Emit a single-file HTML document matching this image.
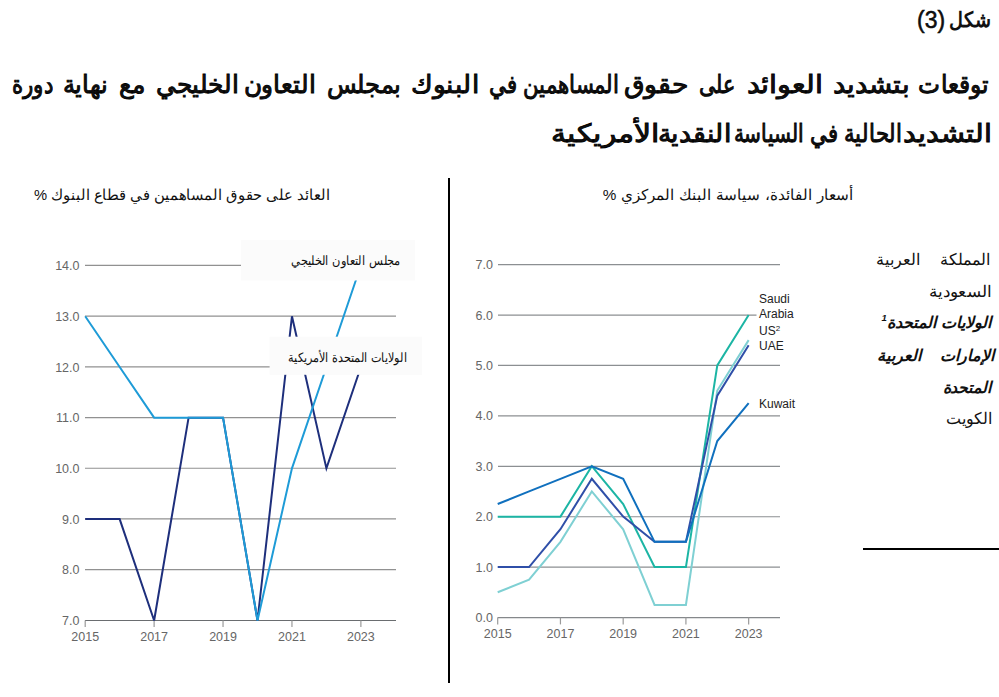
<!DOCTYPE html>
<html lang="ar">
<head>
<meta charset="utf-8">
<title>شكل 3</title>
<style>
html,body{margin:0;padding:0;background:#fff;}
body{width:999px;height:697px;position:relative;overflow:hidden;font-family:"Liberation Sans",sans-serif;color:#111;}
.t{position:absolute;white-space:nowrap;direction:rtl;line-height:1;}
.fit{transform-origin:100% 50%;}
.b{font-weight:bold;}
.tb{font-weight:normal;-webkit-text-stroke:0.9px #000;}
.bi{font-weight:bold;font-style:italic;}
.p3{font-weight:normal;-webkit-text-stroke:0.5px #000;direction:ltr;}
.just{text-align:justify;text-align-last:justify;}
sup{font-size:60%;line-height:0;vertical-align:0.75em;}
svg{position:absolute;left:0;top:0;}
.ax{font-family:"Liberation Sans",sans-serif;font-size:12.5px;fill:#666;}
.lg{font-family:"Liberation Sans",sans-serif;font-size:12px;fill:#222;}
.div1{position:absolute;left:448px;top:178px;width:2px;height:505px;background:#000;}
.hr1{position:absolute;left:863px;top:548px;width:136px;height:2px;background:#000;}
</style>
</head>
<body>
<div class="div1"></div>
<svg width="999" height="697" viewBox="0 0 999 697">
<line x1="85" y1="265.4" x2="241" y2="265.4" stroke="#919191" stroke-width="1.2"/>
<line x1="85" y1="316.11" x2="396" y2="316.11" stroke="#919191" stroke-width="1.2"/>
<line x1="85" y1="366.82" x2="270" y2="366.82" stroke="#919191" stroke-width="1.2"/>
<line x1="85" y1="417.53" x2="396" y2="417.53" stroke="#919191" stroke-width="1.2"/>
<line x1="85" y1="468.24" x2="396" y2="468.24" stroke="#919191" stroke-width="1.2"/>
<line x1="85" y1="518.95" x2="396" y2="518.95" stroke="#919191" stroke-width="1.2"/>
<line x1="85" y1="569.66" x2="396" y2="569.66" stroke="#919191" stroke-width="1.2"/>
<line x1="85" y1="620.5" x2="396" y2="620.5" stroke="#6a6d70" stroke-width="1.2"/>
<line x1="85.2" y1="620.5" x2="85.2" y2="627" stroke="#9a9a9a" stroke-width="1.2"/>
<line x1="154.12" y1="620.5" x2="154.12" y2="627" stroke="#9a9a9a" stroke-width="1.2"/>
<line x1="223.04" y1="620.5" x2="223.04" y2="627" stroke="#9a9a9a" stroke-width="1.2"/>
<line x1="291.96" y1="620.5" x2="291.96" y2="627" stroke="#9a9a9a" stroke-width="1.2"/>
<line x1="360.88" y1="620.5" x2="360.88" y2="627" stroke="#9a9a9a" stroke-width="1.2"/>
<text x="79.5" y="625.2" text-anchor="end" class="ax">7.0</text>
<text x="79.5" y="574.49" text-anchor="end" class="ax">8.0</text>
<text x="79.5" y="523.78" text-anchor="end" class="ax">9.0</text>
<text x="79.5" y="473.07" text-anchor="end" class="ax">10.0</text>
<text x="79.5" y="422.36" text-anchor="end" class="ax">11.0</text>
<text x="79.5" y="371.65" text-anchor="end" class="ax">12.0</text>
<text x="79.5" y="320.94" text-anchor="end" class="ax">13.0</text>
<text x="79.5" y="270.23" text-anchor="end" class="ax">14.0</text>
<text x="85.2" y="641" text-anchor="middle" class="ax">2015</text>
<text x="154.12" y="641" text-anchor="middle" class="ax">2017</text>
<text x="223.04" y="641" text-anchor="middle" class="ax">2019</text>
<text x="291.96" y="641" text-anchor="middle" class="ax">2021</text>
<text x="360.88" y="641" text-anchor="middle" class="ax">2023</text>
<polyline points="85.2,519.08 119.66,519.08 154.12,620.5 188.58,417.66 223.04,417.66 257.5,620.5 291.96,316.24 326.42,468.37 360.88,366.95" fill="none" stroke="#1e2f7c" stroke-width="2" stroke-linejoin="miter" stroke-miterlimit="4"/>
<polyline points="85.2,316.24 119.66,366.95 154.12,417.66 188.58,417.66 223.04,417.66 257.5,620.5 291.96,468.37 326.42,366.95 360.88,265.53" fill="none" stroke="#1e9bd7" stroke-width="2" stroke-linejoin="miter" stroke-miterlimit="4"/>
<rect x="241" y="240" width="174" height="40.5" fill="#fbfbfb"/>
<rect x="269.6" y="336.7" width="152.5" height="38.1" fill="#fbfbfb"/>
<line x1="498" y1="567.18" x2="780" y2="567.18" stroke="#8c8f92" stroke-width="1.2"/>
<line x1="498" y1="516.75" x2="780" y2="516.75" stroke="#8c8f92" stroke-width="1.2"/>
<line x1="498" y1="466.32" x2="780" y2="466.32" stroke="#8c8f92" stroke-width="1.2"/>
<line x1="498" y1="415.89" x2="780" y2="415.89" stroke="#8c8f92" stroke-width="1.2"/>
<line x1="498" y1="365.46" x2="780" y2="365.46" stroke="#8c8f92" stroke-width="1.2"/>
<line x1="498" y1="315.03" x2="756.5" y2="315.03" stroke="#8c8f92" stroke-width="1.2"/>
<line x1="498" y1="264.6" x2="780" y2="264.6" stroke="#8c8f92" stroke-width="1.2"/>
<line x1="497.7" y1="617.6" x2="780" y2="617.6" stroke="#85888b" stroke-width="1.2"/>
<line x1="497.7" y1="617.6" x2="497.7" y2="624.4" stroke="#9a9a9a" stroke-width="1.2"/>
<line x1="560.44" y1="617.6" x2="560.44" y2="624.4" stroke="#9a9a9a" stroke-width="1.2"/>
<line x1="623.18" y1="617.6" x2="623.18" y2="624.4" stroke="#9a9a9a" stroke-width="1.2"/>
<line x1="685.92" y1="617.6" x2="685.92" y2="624.4" stroke="#9a9a9a" stroke-width="1.2"/>
<line x1="748.66" y1="617.6" x2="748.66" y2="624.4" stroke="#9a9a9a" stroke-width="1.2"/>
<text x="493" y="622.2" text-anchor="end" class="ax">0.0</text>
<text x="493" y="571.77" text-anchor="end" class="ax">1.0</text>
<text x="493" y="521.34" text-anchor="end" class="ax">2.0</text>
<text x="493" y="470.91" text-anchor="end" class="ax">3.0</text>
<text x="493" y="420.48" text-anchor="end" class="ax">4.0</text>
<text x="493" y="370.05" text-anchor="end" class="ax">5.0</text>
<text x="493" y="319.62" text-anchor="end" class="ax">6.0</text>
<text x="493" y="269.19" text-anchor="end" class="ax">7.0</text>
<text x="497.7" y="637.8" text-anchor="middle" class="ax">2015</text>
<text x="560.44" y="637.8" text-anchor="middle" class="ax">2017</text>
<text x="623.18" y="637.8" text-anchor="middle" class="ax">2019</text>
<text x="685.92" y="637.8" text-anchor="middle" class="ax">2021</text>
<text x="748.66" y="637.8" text-anchor="middle" class="ax">2023</text>
<polyline points="497.7,592.28 529.07,579.68 560.44,541.86 591.81,491.43 623.18,529.25 654.55,604.89 685.92,604.89 717.29,390.56 748.66,340.13" fill="none" stroke="#7fd0d3" stroke-width="2" stroke-linejoin="miter" stroke-miterlimit="4"/>
<polyline points="497.7,516.64 529.07,516.64 560.44,516.64 591.81,466.21 623.18,504.03 654.55,567.07 685.92,567.07 717.29,365.35 748.66,314.92" fill="none" stroke="#1cb5a4" stroke-width="2" stroke-linejoin="miter" stroke-miterlimit="4"/>
<polyline points="497.7,567.07 529.07,567.07 560.44,529.25 591.81,478.82 623.18,516.64 654.55,541.86 685.92,541.86 717.29,395.61 748.66,345.18" fill="none" stroke="#2f4fa8" stroke-width="2" stroke-linejoin="miter" stroke-miterlimit="4"/>
<polyline points="497.7,504.03 529.07,491.43 560.44,478.82 591.81,466.21 623.18,478.82 654.55,541.86 685.92,541.86 717.29,441 748.66,403.17" fill="none" stroke="#1070be" stroke-width="2" stroke-linejoin="miter" stroke-miterlimit="4"/>
<text x="759" y="302.8" class="lg">Saudi</text>
<text x="759" y="317.8" class="lg">Arabia</text>
<text x="759" y="349.6" class="lg">UAE</text>
<text x="759" y="408" class="lg">Kuwait</text>
<text x="759" y="334.5" class="lg">US<tspan font-size="8" dy="-4">2</tspan></text>

</svg>
<div class="t fit b" data-w="41.92" style="right:7.6px;top:9.1px;font-size:21px;transform:scaleX(0.8061);">شكل</div>
<div class="t fit p3" data-w="28.03" style="right:54.3px;top:8.6px;font-size:23px;transform:scaleX(0.9667);">(3)</div>
<div class="t fit tb" data-w="70.83" style="right:9.7px;top:71.9px;font-size:25px;transform:scaleX(0.9320);">توقعات</div>
<div class="t fit tb" data-w="77.10" style="right:89.0px;top:71.9px;font-size:25px;transform:scaleX(1.1015);">بتشديد</div>
<div class="t fit tb" data-w="76.42" style="right:176.4px;top:71.9px;font-size:25px;transform:scaleX(1.1406);">العوائد</div>
<div class="t fit tb" data-w="36.17" style="right:263.6px;top:71.9px;font-size:25px;transform:scaleX(0.8220);">على</div>
<div class="t fit tb" data-w="63.83" style="right:310.9px;top:71.9px;font-size:25px;transform:scaleX(1.0638);">حقوق</div>
<div class="t fit tb" data-w="130.25" style="right:379.7px;top:71.9px;font-size:25px;transform:scaleX(0.8513);">المساهمين في</div>
<div class="t fit tb" data-w="68.15" style="right:519.8px;top:71.9px;font-size:25px;transform:scaleX(1.0484);">البنوك</div>
<div class="t fit tb" data-w="74.50" style="right:598.2px;top:71.9px;font-size:25px;transform:scaleX(0.9676);">بمجلس</div>
<div class="t fit tb" data-w="72.37" style="right:683.4px;top:71.9px;font-size:25px;transform:scaleX(0.9914);">التعاون</div>
<div class="t fit tb" data-w="83.27" style="right:760.5px;top:71.9px;font-size:25px;transform:scaleX(0.9914);">الخليجي</div>
<div class="t fit tb" data-w="26.00" style="right:854.0px;top:71.9px;font-size:25px;transform:scaleX(1.0000);">مع</div>
<div class="t fit tb" data-w="45.29" style="right:890.6px;top:71.9px;font-size:25px;transform:scaleX(0.9636);">نهاية</div>
<div class="t fit tb" data-w="40.90" style="right:946.1px;top:71.9px;font-size:25px;transform:scaleX(0.8522);">دورة</div>
<div class="t fit tb" data-w="88.92" style="right:7.4px;top:121.4px;font-size:25px;transform:scaleX(1.1400);">التشديد</div>
<div class="t fit tb" data-w="91.54" style="right:97.3px;top:121.4px;font-size:25px;transform:scaleX(0.8476);">الحالية في</div>
<div class="t fit tb" data-w="70.01" style="right:195.2px;top:121.4px;font-size:25px;transform:scaleX(0.8048);">السياسة</div>
<div class="t fit tb" data-w="73.50" style="right:267.7px;top:121.4px;font-size:25px;transform:scaleX(1.0652);">النقدية</div>
<div class="t fit tb" data-w="107.59" style="right:340.4px;top:121.4px;font-size:25px;transform:scaleX(1.1954);">الأمريكية</div>
<div class="t fit " data-w="295.59" style="right:669.0px;top:186.5px;font-size:15px;transform:scaleX(0.9886);">العائد على حقوق المساهمين في قطاع البنوك %</div>
<div class="t fit " data-w="250.42" style="right:146.0px;top:186.6px;font-size:15px;transform:scaleX(1.0221);">أسعار الفائدة، سياسة البنك المركزي %</div>
<div class="t fit " data-w="109.25" style="right:598.8px;top:253.9px;font-size:13px;transform:scaleX(0.8740);">مجلس التعاون الخليجي</div>
<div class="t fit " data-w="119.17" style="right:591.7px;top:350.6px;font-size:13px;transform:scaleX(0.8574);">الولايات المتحدة الأمريكية</div>
<div class="t just " style="left:875.8px;width:114.5px;top:251.7px;font-size:16px;">المملكة العربية</div>
<div class="t fit " data-w="62.11" style="right:7.6px;top:283.7px;font-size:16px;transform:scaleX(1.0526);">السعودية</div>
<div class="t fit bi" data-w="109.20" style="right:8.3px;top:315.1px;font-size:16px;transform:scaleX(1.0018);">الولايات المتحدة<sup>1</sup></div>
<div class="t just bi" style="left:877px;width:117.0px;top:347.6px;font-size:16px;">الإمارات العربية</div>
<div class="t fit bi" data-w="48.41" style="right:7.6px;top:379.7px;font-size:16px;transform:scaleX(0.9880);">المتحدة</div>
<div class="t fit " data-w="45.69" style="right:7.5px;top:410.6px;font-size:16px;transform:scaleX(0.9932);">الكويت</div>
<div class="hr1"></div>
<script>
(function(){var els=document.querySelectorAll('.fit');var ws=[];for(var i=0;i<els.length;i++){els[i].style.transform='none';}for(var i=0;i<els.length;i++){ws.push(els[i].getBoundingClientRect().width);}for(var i=0;i<els.length;i++){var e=els[i];var w=parseFloat(e.getAttribute('data-w'));var n=ws[i];if(w>0&&n>0){e.style.transform='scaleX('+(w/n).toFixed(4)+')';}}})();
</script>
</body>
</html>
